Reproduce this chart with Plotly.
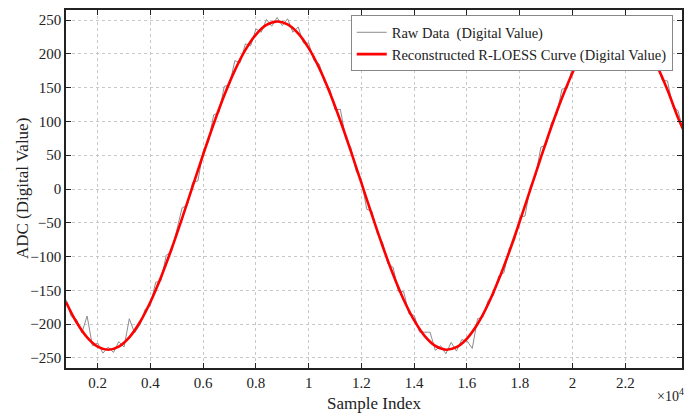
import plotly.graph_objects as go

# ---- data ----
curve_x = [800 + 400 * k for k in range(59)] + [24200]
curve_y = [-167.2, -197.3, -219.6, -233.4, -238.0, -233.4, -219.6, -197.3, -167.2, -130.6,
           -88.8, -43.4, 3.8, 51.1, 96.6, 138.7, 175.6, 206.0, 228.7, 242.9,
           248.0, 243.8, 230.5, 208.6, 178.9, 142.6, 101.0, 55.7, 8.6, -38.8,
           -84.4, -126.7, -163.9, -194.6, -217.8, -232.4, -238.0, -234.2, -221.4, -199.9,
           -170.6, -134.5, -93.2, -48.0, -0.9, 46.5, 92.2, 134.7, 172.2, 203.3,
           226.8, 241.9, 247.9, 244.6, 232.2, 211.1, 182.2, 146.5, 105.3, 87.7]

raw_x = [800 + 200 * j for j in range(118)]
raw_y = [-164, -189, -193, -213, -188, -232, -228, -243, -234, -242,
         -226, -234, -192, -213, -201, -178, -172, -138, -136, -98,
         -93, -62, -28, -24, 10, 12, 56, 70, 110, 113,
         152, 154, 190, 187, 215, 212, 237, 232, 251, 241,
         254, 242, 252, 232, 240, 216, 216, 190, 185, 158,
         148, 117, 118, 75, 61, 26, 13, -30, -33, -66,
         -79, -111, -116, -152, -152, -185, -187, -212, -212, -212,
         -239, -232, -244, -227, -240, -223, -225, -236, -192, -190,
         -165, -158, -129, -124, -88, -76, -42, -40, 4, 19,
         62, 65, 98, 110, 148, 149, 181, 184, 210, 211,
         233, 231, 248, 241, 253, 242, 251, 235, 238, 218,
         225, 194, 188, 161, 160, 122, 116, 85]

x_tickvals = [2000, 4000, 6000, 8000, 10000, 12000, 14000, 16000, 18000, 20000, 22000]
x_ticktext = ["0.2", "0.4", "0.6", "0.8", "1", "1.2", "1.4", "1.6", "1.8", "2", "2.2"]
y_tickvals = [-250, -200, -150, -100, -50, 0, 50, 100, 150, 200, 250]

FONT = "Liberation Serif, Times New Roman, serif"
INK = "#222"

fig = go.Figure()
fig.add_trace(go.Scatter(x=raw_x, y=raw_y, mode="lines", name="Raw Data  (Digital Value)",
                         line=dict(color="#8c8c8c", width=1)))
fig.add_trace(go.Scatter(x=curve_x, y=curve_y, mode="lines",
                         name="Reconstructed R-LOESS Curve (Digital Value)",
                         line=dict(color="#ff0000", width=2.6, shape="spline")))

axis_common = dict(showline=True, linecolor=INK, linewidth=1.5, mirror="ticks",
                   ticks="inside", ticklen=5, tickcolor=INK, tickwidth=1,
                   showgrid=True, gridcolor="#c8c8c8", griddash="3px,3px", gridwidth=1,
                   zeroline=False, automargin=False,
                   tickfont=dict(family=FONT, size=15, color=INK))

fig.update_xaxes(range=[800, 24150], tickvals=x_tickvals, ticktext=x_ticktext, **axis_common)
fig.update_yaxes(range=[-265, 265], tickvals=y_tickvals, **axis_common)

fig.update_layout(
    width=699, height=415,
    margin=dict(l=66, r=17, t=10, b=47, autoexpand=False),
    paper_bgcolor="white", plot_bgcolor="white",
    font=dict(family=FONT, size=15, color=INK),
    showlegend=True,
    legend=dict(x=0.985, y=0.985, xanchor="right", yanchor="top",
                bgcolor="white", bordercolor="#888", borderwidth=1,
                font=dict(family=FONT, size=14.5, color=INK),
                tracegroupgap=0, itemwidth=30),
    annotations=[
        dict(text="Sample Index", xref="paper", yref="paper", x=0.5, y=-0.098,
             xanchor="center", yanchor="middle", showarrow=False,
             font=dict(family=FONT, size=17, color=INK)),
        dict(text="ADC (Digital Value)", xref="paper", yref="paper", x=-0.0714, y=0.5,
             xanchor="center", yanchor="middle", textangle=-90, showarrow=False,
             font=dict(family=FONT, size=17, color=INK)),
        dict(text="×10<sup>4</sup>", xref="paper", yref="paper", x=1.006, y=-0.045,
             xanchor="right", yanchor="top", showarrow=False,
             font=dict(family=FONT, size=14, color=INK)),
    ],
)

fig.write_html("out.html", config={"displayModeBar": False},
               post_script="document.body.style.margin='0px';")
